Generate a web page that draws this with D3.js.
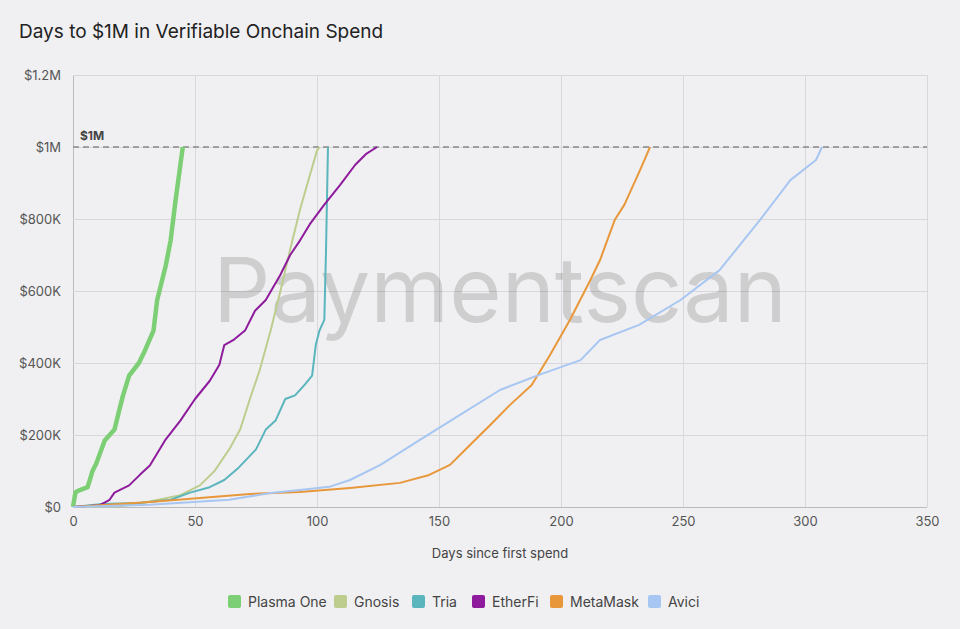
<!DOCTYPE html><html><head><meta charset="utf-8"><script src="https://cdn.jsdelivr.net/npm/d3@7"></script>
<style>body{margin:0;background:#f0f0f2;font-family:Inter,"Noto Sans",sans-serif}</style></head><body><svg id="c" width="960" height="629"></svg><script>
const seriesNames=["Plasma One","Gnosis","Tria","EtherFi","MetaMask","Avici"];
const colors=["#7ccf74","#bccd8d","#5ab5bd","#8e1b9b","#e8973a","#a8c6f2"];
const widths=[4.5,2,2,2,2,2];
const plasma=[[0,0],[1,40],[2,45],[6,55],[8,100],[9.5,120],[13,185],[17,215],[19,270],[20.5,310],[23,365],[27,400],[29.5,435],[33,490],[34.5,575],[38,670],[40,740],[42,850],[44,950],[45,1000]];
const gnosis=[[0,0],[20,3],[31.5,15],[44,33],[52,60],[58,100],[64,160],[68.5,215],[72.5,300],[76.5,380],[81,490],[85,600],[89,715],[93,825],[97,920],[100,990],[101,1000]];
const tria=[[0,0],[11,8],[27,11],[40,20],[48,40],[56,55],[62,75],[68,110],[75,160],[79,215],[83,240],[87,300],[91,310],[95,340],[98,365],[99.5,450],[101,490],[103,520],[103.7,715],[104.5,1000]];
const etherfi=[[0,0],[11,5],[15,20],[17,40],[23,60],[27.5,90],[31.5,115],[37.7,185],[44,240],[50,300],[56,350],[60,395],[62,450],[66,465],[70.5,490],[74.6,545],[79,575],[85,645],[89,700],[93,740],[97,785],[103,840],[109.5,895],[115.6,950],[120,980],[124.6,1000]];
const metamask=[[0,0],[19,8],[31.5,14],[52,25],[72.5,36],[93,42],[113.5,53],[134,67],[146,89],[154.5,117],[162.7,172],[171,228],[179,283],[188,339],[195.5,422],[203.7,520],[212,630],[216,686],[222,797],[226,840],[232.4,936],[236.5,1000]];
const avici=[[0,0],[31.5,6],[64,20],[81,39],[93,47],[105,56],[113.5,75],[126,117],[142,186],[158.6,256],[175,325],[191,367],[208,408],[216,464],[232,506],[249,575],[265,658],[281.5,797],[294,908],[304.5,964],[307,1000]];
const allSeries=[plasma,gnosis,tria,etherfi,metamask,avici];
const xTicks=[0,50,100,150,200,250,300,350];
const yTicks=[0,200,400,600,800,1000,1200];
const yLabels=["$0","$200K","$400K","$600K","$800K","$1M","$1.2M"];
const svg=d3.select("#c");
const x=d3.scaleLinear().domain([0,350]).range([73,927]);
const y=d3.scaleLinear().domain([0,1200]).range([507,75]);
svg.append("text").attr("x",19).attr("y",38).attr("font-size",19).attr("fill","#222").text("Days to $1M in Verifiable Onchain Spend");
const gx=svg.append("g").attr("transform","translate(0,507)").call(d3.axisBottom(x).tickValues(xTicks).tickSize(-432).tickPadding(10));
const gy=svg.append("g").attr("transform","translate(73,0)").call(d3.axisLeft(y).tickValues(yTicks).tickFormat((d,i)=>yLabels[i]).tickSize(-854).tickPadding(12));
[gx,gy].forEach(g=>{g.select(".domain").remove();g.selectAll("line").attr("stroke","#d8d8dc");g.selectAll("text").attr("font-size",13).attr("fill","#555").attr("font-family","Inter,sans-serif");});
gx.selectAll("line").filter(d=>d===0).attr("stroke","#bbb");
gy.selectAll("line").filter(d=>d===0).attr("stroke","#bbb");
svg.append("text").attr("x",500).attr("y",322).attr("text-anchor","middle").attr("font-size",90).attr("fill","rgba(0,0,0,0.14)").attr("font-family","Inter,sans-serif").text("Paymentscan");
svg.append("line").attr("x1",73).attr("x2",927).attr("y1",y(1000)).attr("y2",y(1000)).attr("stroke","#888").attr("stroke-width",1.5).attr("stroke-dasharray","6,4");
svg.append("text").attr("x",80).attr("y",y(1000)-7).attr("font-size",12).attr("font-weight","bold").attr("fill","#444").text("$1M");
const line=d3.line().x(d=>x(d[0])).y(d=>y(d[1]));
allSeries.forEach((s,i)=>svg.append("path").attr("d",line(s)).attr("fill","none").attr("stroke",colors[i]).attr("stroke-width",widths[i]).attr("stroke-linejoin","round"));
svg.append("text").attr("x",500).attr("y",558).attr("text-anchor","middle").attr("font-size",13).attr("fill","#444").text("Days since first spend");
const lx=[228,334,412,472,550,648];
seriesNames.forEach((n,i)=>{const g=svg.append("g").attr("transform",`translate(${lx[i]},595)`);
g.append("rect").attr("width",13).attr("height",13).attr("rx",2).attr("fill",colors[i]);
g.append("text").attr("x",20).attr("y",12).attr("font-size",14).attr("fill","#444").text(n);});
</script></body></html>
